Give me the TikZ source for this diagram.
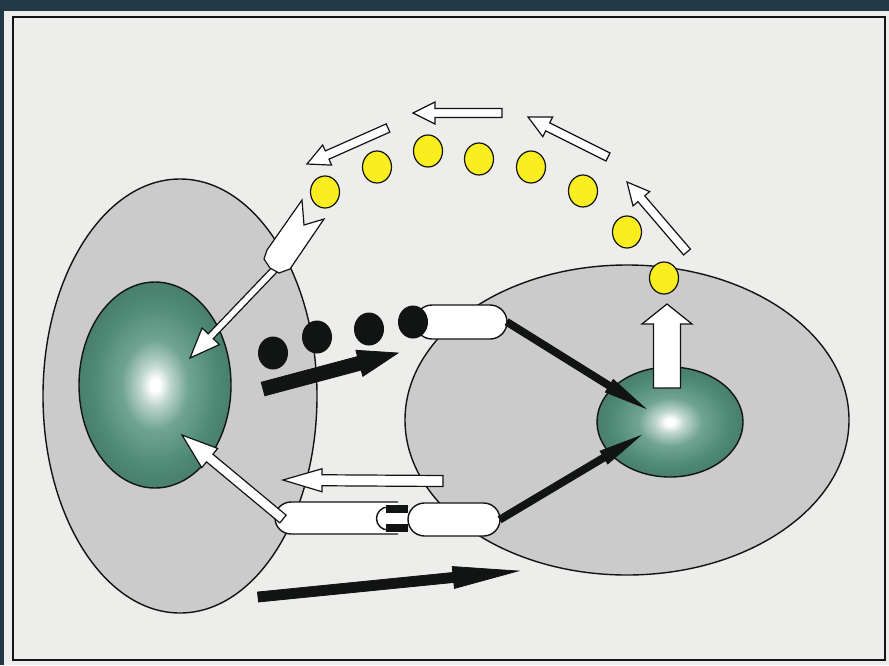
\documentclass[tikz,border=0pt]{standalone}
\usetikzlibrary{shapes.geometric,shapes.misc,calc}

\definecolor{bgdark}{RGB}{34,56,70}
\definecolor{panel}{RGB}{237,237,235}
\definecolor{cellgray}{RGB}{203,203,203}
\definecolor{nucedge}{RGB}{78,138,118}
\definecolor{nucmid}{RGB}{112,164,146}
\definecolor{ligand}{RGB}{250,238,32}
\definecolor{ink}{RGB}{18,20,20}

% nucleus: soft bright centre fading to teal at the rim (rim at 25bp)
\pgfdeclareradialshading{nucleusshade}{\pgfpoint{0bp}{0bp}}{%
  color(0bp)=(white); color(1.5bp)=(white); color(5bp)=(white!55!nucmid);
  color(11bp)=(nucmid); color(20bp)=(nucedge); color(25bp)=(nucedge!92!black);
  color(50bp)=(nucedge!92!black)}

% block arrow: [style]{tail}{tip}{shaft half width}{head half width}{head length}, sizes in px
\newcommand\blockarrow[6][]{%
  \path[#1] let \p1=(#2), \p2=(#3),
      \n1={atan2(\y2-\y1,\x2-\x1)},
      \n2={veclen(\x2-\x1,\y2-\y1)-#6*0.5pt},
      \n3={#4*0.5pt}, \n4={#5*0.5pt} in
    ($(\p1)+(\n1+90:\n3*1pt)$)
    -- ($(\p1)+(\n1:\n2*1pt)+(\n1+90:\n3*1pt)$)
    -- ($(\p1)+(\n1:\n2*1pt)+(\n1+90:\n4*1pt)$)
    -- (\p2)
    -- ($(\p1)+(\n1:\n2*1pt)+(\n1-90:\n4*1pt)$)
    -- ($(\p1)+(\n1:\n2*1pt)+(\n1-90:\n3*1pt)$)
    -- ($(\p1)+(\n1-90:\n3*1pt)$) -- cycle;}

\begin{document}
\begin{tikzpicture}[x=0.5pt,y=-0.5pt,
  cellbody/.style={ellipse, draw=ink, line width=0.7pt, fill=cellgray, inner sep=0pt, outer sep=0pt},
  nucleus/.style={ellipse, draw=ink, line width=0.7pt, shade, shading=nucleusshade, inner sep=0pt, outer sep=0pt},
  ligandball/.style={ellipse, draw=ink, line width=0.6pt, fill=ligand, minimum width=14.5pt, minimum height=16pt, inner sep=0pt},
  blackdot/.style={ellipse, fill=ink, minimum width=15pt, minimum height=16.5pt, inner sep=0pt},
  capsule/.style={rounded rectangle, draw=ink, line width=0.7pt, fill=white, inner sep=0pt, outer sep=0pt},
  capline/.style={draw=ink, line width=0.7pt, fill=white},
  hollowarrow/.style={draw=ink, fill=white, line width=0.6pt, line join=miter},
  solidarrow/.style={draw=ink, fill=ink, line width=0.4pt, line join=miter}]

\useasboundingbox (0,0) rectangle (889,665);
% backing board and panel
\fill[bgdark] (0,0) rectangle (889,665);
\fill[panel] (4,11) rectangle (889,665);
\draw[ink, line width=0.8pt] (13,17) rectangle (885,660);

% cells and nuclei
\node[cellbody, minimum width=137pt, minimum height=217pt] (cellL) at (180,396) {};
\node[cellbody, minimum width=222pt, minimum height=155pt] (cellR) at (627,420) {};
\node[nucleus, minimum width=76pt, minimum height=103pt] (nucL) at (155,385) {};
\node[nucleus, minimum width=73pt, minimum height=55pt] (nucR) at (670,422) {};

% export arrow out of the right nucleus
\coordinate (upS) at (667,388);
\coordinate (upT) at (667,304);
\blockarrow[hollowarrow]{upS}{upT}{13.5}{25}{20}

% receptor capsules
\node[capsule, minimum width=46pt, minimum height=17pt] (capT) at (461,322) {};
\path[capline] (398,502) -- (291,502) arc[start angle=90, end angle=270, radius=8pt] -- (398,534);
\coordinate (capLw) at (283,519);
\path[capline] (408,507) -- (388,507) arc[start angle=90, end angle=270, radius=5.75pt] -- (408,530);
\fill[ink] (386,505) rectangle (408,513);
\fill[ink] (386,524) rectangle (408,532);
\node[capsule, minimum width=46pt, minimum height=16.5pt] (capR) at (454,519.5) {};

% black ligands
\node[blackdot] (d1) at (273,353) {};
\node[blackdot] (d2) at (317,337) {};
\node[blackdot] (d3) at (369,329) {};
\node[blackdot] (d4) at (413,322) {};

% signalling arrows inside the right cell
\coordinate (r1T) at (645,408);
\coordinate (r2T) at (640,436);
\blockarrow[solidarrow]{capT.east}{r1T}{3.5}{7.5}{42}
\blockarrow[solidarrow]{capR.east}{r2T}{3.5}{7.5}{42}

% movement arrows
\coordinate (m1S) at (263,389);
\coordinate (m1T) at (398,353);
\blockarrow[solidarrow]{m1S}{m1T}{7}{13.5}{40}
\coordinate (b1S) at (258,597);
\coordinate (b1T) at (518,571);
\blockarrow[solidarrow]{b1S}{b1T}{5}{11}{65}
\coordinate (h1S) at (443,481);
\coordinate (h1T) at (283,480);
\blockarrow[hollowarrow]{h1S}{h1T}{5.5}{11.5}{39}

% arrows into the left nucleus
\coordinate (lw1S) at (276,268);
\coordinate (lw1T) at (190,358);
\blockarrow[hollowarrow]{lw1S}{lw1T}{3.5}{12}{30}
\coordinate (lw2T) at (182,435);
\blockarrow[hollowarrow]{capLw}{lw2T}{5}{12.5}{36}

% fletched receptor on the left cell
\path[hollowarrow] (302,200) -- (304,225) -- (324,219) -- (290,269) -- (279,273)
  -- (270,268) -- (264,259) -- (267,250) -- cycle;

% secreted yellow ligands
\node[ligandball] (y1) at (325,192) {};
\node[ligandball] (y2) at (377,167) {};
\node[ligandball] (y3) at (428,151) {};
\node[ligandball] (y4) at (479,159) {};
\node[ligandball] (y5) at (531,167) {};
\node[ligandball] (y6) at (583,191) {};
\node[ligandball] (y7) at (627,232) {};
\node[ligandball] (y8) at (664,278) {};

% arc of arrows from the right cell back to the left
\coordinate (adS) at (687,252); \coordinate (adT) at (627,182);
\coordinate (acS) at (608,157); \coordinate (acT) at (528,117);
\coordinate (abS) at (502,113); \coordinate (abT) at (413,113);
\coordinate (aaS) at (388,128); \coordinate (aaT) at (307,164);
\blockarrow[hollowarrow]{adS}{adT}{4.5}{11}{22}
\blockarrow[hollowarrow]{acS}{acT}{4.5}{11}{22}
\blockarrow[hollowarrow]{abS}{abT}{4.5}{11}{22}
\blockarrow[hollowarrow]{aaS}{aaT}{4.5}{11}{22}
\end{tikzpicture}
\end{document}
